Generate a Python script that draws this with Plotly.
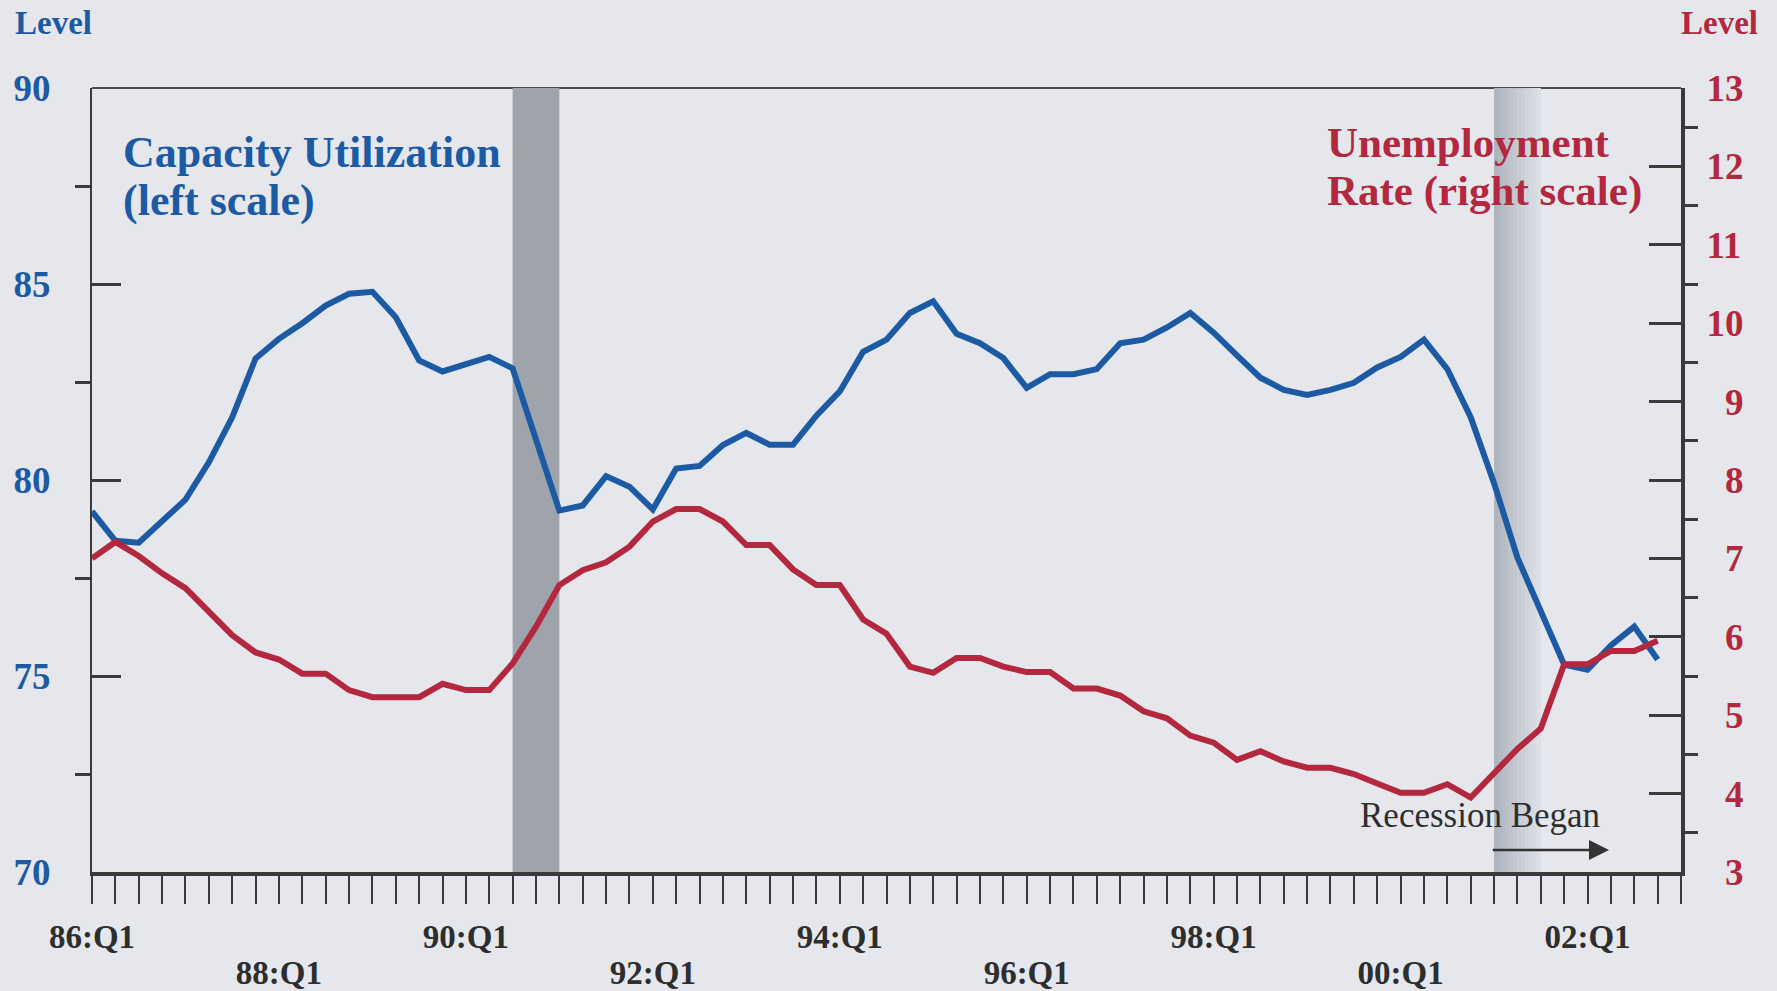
import plotly.graph_objects as go

# ---------------- data ----------------
start_year = 1986  # first observation: 86:Q1, quarterly thereafter

capacity = [
    79.2, 78.45, 78.4, 78.95, 79.5, 80.45, 81.6, 83.1,
    83.6, 84.0, 84.45, 84.75, 84.8, 84.15, 83.05, 82.77,
    82.96, 83.14, 82.85, 81.0, 79.22, 79.35, 80.1, 79.83,
    79.25, 80.29, 80.36, 80.89, 81.2, 80.9, 80.9, 81.64,
    82.26, 83.27, 83.58, 84.26, 84.56, 83.73, 83.49, 83.11,
    82.35, 82.7, 82.7, 82.83, 83.49, 83.58, 83.89, 84.26,
    83.76, 83.18, 82.61, 82.3, 82.17, 82.3, 82.48, 82.87,
    83.14, 83.58, 82.83, 81.6, 79.92, 78.02, 76.7, 75.29,
    75.16, 75.78, 76.26, 75.42,
]

unemployment = [
    7.0, 7.21, 7.03, 6.81, 6.62, 6.33, 6.02, 5.8,
    5.71, 5.53, 5.53, 5.32, 5.23, 5.23, 5.23, 5.4,
    5.32, 5.32, 5.66, 6.13, 6.66, 6.85, 6.95, 7.15,
    7.47, 7.63, 7.63, 7.47, 7.17, 7.17, 6.86, 6.66,
    6.66, 6.22, 6.04, 5.62, 5.54, 5.73, 5.73, 5.62,
    5.55, 5.55, 5.34, 5.34, 5.25, 5.05, 4.96, 4.74,
    4.65, 4.43, 4.54, 4.41, 4.33, 4.33, 4.25, 4.13,
    4.01, 4.01, 4.12, 3.95, 4.26, 4.57, 4.83, 5.65,
    5.65, 5.82, 5.82, 5.95,
]

recessions = [(1990.5, 1991.0), (2001.0, 2001.5)]

# x labels on two alternating rows
x_row1_vals = [1986, 1990, 1994, 1998, 2002]
x_row1_text = ["86:Q1", "90:Q1", "94:Q1", "98:Q1", "02:Q1"]
x_row2_vals = [1988, 1992, 1996, 2000]
x_row2_text = ["88:Q1", "92:Q1", "96:Q1", "00:Q1"]

left_tick_vals = [70, 75, 80, 85, 90]
left_minor_vals = [72.5, 77.5, 82.5, 87.5]
right_tick_vals = [3, 4, 5, 6, 7, 8, 9, 10, 11, 12, 13]
right_minor_vals = [3.5, 4.5, 5.5, 6.5, 7.5, 8.5, 9.5, 10.5, 11.5, 12.5]

# ---------------- styling ----------------
BG = "#e5e7ec"
BLUE = "#1d5aa4"
RED = "#b3283e"
DARK = "#2e2e2e"
AX = "#3a3a3a"
SERIF = "Liberation Serif"

x = [start_year + i * 0.25 for i in range(len(capacity))]

fig = go.Figure()
fig.add_trace(go.Scatter(x=x, y=capacity, mode="lines",
                         line=dict(color=BLUE, width=6), yaxis="y",
                         name="Capacity Utilization", showlegend=False,
                         hoverinfo="skip"))
fig.add_trace(go.Scatter(x=x, y=unemployment, mode="lines",
                         line=dict(color=RED, width=6), yaxis="y2",
                         name="Unemployment Rate", showlegend=False,
                         hoverinfo="skip"))
# carrier for the second row of x labels (invisible)
fig.add_trace(go.Scatter(x=x[:1], y=capacity[:1], mode="markers",
                         marker=dict(opacity=0), xaxis="x2", yaxis="y",
                         showlegend=False, hoverinfo="skip"))

right_ticktext = [("\u00a0\u00a0" + str(v)) if v < 10 else str(v) for v in right_tick_vals]

shapes = []
# top frame line (drawn first so the bands cover it)
shapes.append(dict(type="line", xref="paper", yref="paper", x0=0, x1=1, y0=1, y1=1,
                   line=dict(color="#4a4a4a", width=2), layer="below"))
# first recession band: solid gray
r0 = recessions[0]
shapes.append(dict(type="rect", xref="x", yref="paper", x0=r0[0], x1=r0[1], y0=0, y1=1,
                   fillcolor="#9fa4ac", line=dict(width=0), layer="below"))
# second recession band: faded gradient
r1 = recessions[1]
n_strips = 12
c_start = (174, 180, 189)
c_end = (220, 224, 230)
for k in range(n_strips):
    f = k / (n_strips - 1)
    col = tuple(int(round(c_start[j] + (c_end[j] - c_start[j]) * f)) for j in range(3))
    xa = r1[0] + (r1[1] - r1[0]) * k / n_strips
    xb = r1[0] + (r1[1] - r1[0]) * (k + 1) / n_strips
    shapes.append(dict(type="rect", xref="x", yref="paper", x0=xa, x1=xb + 0.002,
                       y0=0, y1=1, fillcolor="rgb(%d,%d,%d)" % col,
                       line=dict(width=0), layer="below"))

annotations = [
    dict(text="<b>Level</b>", xref="paper", yref="paper", x=-0.05, y=1.083,
         xanchor="left", yanchor="middle", showarrow=False,
         font=dict(family=SERIF, size=33, color=BLUE)),
    dict(text="<b>Level</b>", xref="paper", yref="paper", x=1.0497, y=1.083,
         xanchor="right", yanchor="middle", showarrow=False,
         font=dict(family=SERIF, size=33, color=RED)),
    dict(text="<b>Capacity Utilization</b>", xref="paper", yref="paper", x=0.018, y=0.918,
         xanchor="left", yanchor="middle", showarrow=False,
         font=dict(family=SERIF, size=44, color=BLUE)),
    dict(text="<b>(left scale)</b>", xref="paper", yref="paper", x=0.018, y=0.856,
         xanchor="left", yanchor="middle", showarrow=False,
         font=dict(family=SERIF, size=44, color=BLUE)),
    dict(text="<b>Unemployment</b>", xref="paper", yref="paper", x=0.776, y=0.931,
         xanchor="left", yanchor="middle", showarrow=False,
         font=dict(family=SERIF, size=43, color=RED)),
    dict(text="<b>Rate (right scale)</b>", xref="paper", yref="paper", x=0.776, y=0.869,
         xanchor="left", yanchor="middle", showarrow=False,
         font=dict(family=SERIF, size=43, color=RED)),
    dict(text="Recession Began", xref="x", yref="y", x=2000.85, y=71.44,
         xanchor="center", yanchor="middle", showarrow=False,
         font=dict(family=SERIF, size=35, color=DARK)),
    dict(text="", xref="x", yref="y", x=2002.23, y=70.56,
         axref="x", ayref="y", ax=2000.97, ay=70.56, showarrow=True,
         arrowhead=2, arrowsize=1.6, arrowwidth=2.5, arrowcolor="#333333"),
]

xtickfont = dict(family=SERIF, size=33, color=DARK, weight="bold")

fig.update_layout(
    width=1777, height=991,
    margin=dict(l=92, r=96, t=88, b=119, autoexpand=False),
    paper_bgcolor=BG, plot_bgcolor=BG,
    showlegend=False,
    shapes=shapes,
    annotations=annotations,
    xaxis=dict(
        range=[1986, 2003], showgrid=False, zeroline=False, automargin=False,
        showline=True, linewidth=4, linecolor=AX,
        ticks="outside", ticklen=28, tickwidth=2, tickcolor=AX,
        tickvals=x_row1_vals + x_row2_vals,
        ticktext=x_row1_text + [""] * len(x_row2_vals),
        tickfont=xtickfont,
        ticklabelstandoff=4,
        minor=dict(tick0=1986, dtick=0.25, ticks="outside", ticklen=28,
                   tickwidth=2, tickcolor=AX),
    ),
    xaxis2=dict(
        range=[1986, 2003], overlaying="x", anchor="y", side="bottom",
        showgrid=False, zeroline=False, automargin=False, showline=False,
        ticks="", tickvals=x_row2_vals, ticktext=x_row2_text,
        tickfont=xtickfont, ticklabelstandoff=78,
    ),
    yaxis=dict(
        range=[70, 90], showgrid=False, zeroline=False, automargin=False,
        showline=True, linewidth=2, linecolor=AX,
        ticks="inside", ticklen=29, tickwidth=2.5, tickcolor=AX,
        tickvals=left_tick_vals, ticktext=[str(v) for v in left_tick_vals],
        tickfont=dict(family=SERIF, size=37, color=BLUE, weight="bold"),
        ticklabelstandoff=32,
        minor=dict(tickvals=left_minor_vals, ticks="outside", ticklen=15,
                   tickwidth=2.5, tickcolor=AX),
    ),
    yaxis2=dict(
        range=[3, 13], overlaying="y", side="right", showgrid=False, zeroline=False,
        automargin=False,
        showline=True, linewidth=4, linecolor=AX,
        ticks="inside", ticklen=32, tickwidth=2.5, tickcolor=AX,
        tickvals=right_tick_vals, ticktext=right_ticktext,
        tickfont=dict(family=SERIF, size=37, color=RED, weight="bold"),
        ticklabelstandoff=14,
        minor=dict(tickvals=right_minor_vals, ticks="outside", ticklen=13,
                   tickwidth=2.5, tickcolor=AX),
    ),
)

fig.write_html(
    "out.html",
    config={"displayModeBar": False},
    post_script="document.body.style.margin='0';document.body.style.background='%s';" % BG,
)
